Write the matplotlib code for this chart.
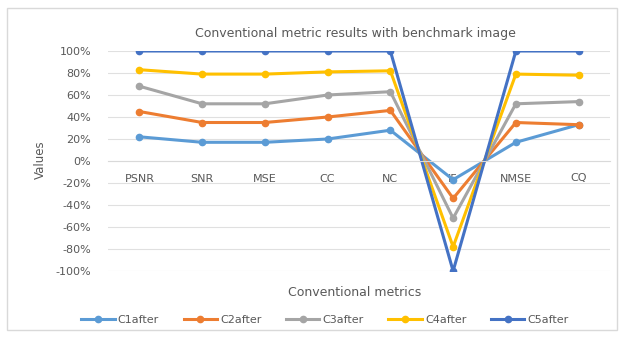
import matplotlib
matplotlib.use("Agg")
import matplotlib.pyplot as plt
from matplotlib.patches import Rectangle
from matplotlib.ticker import FuncFormatter

categories = ["PSNR", "SNR", "MSE", "CC", "NC", "IF", "NMSE", "CQ"]
series_names = ["C1after", "C2after", "C3after", "C4after", "C5after"]
c1 = [22, 17, 17, 20, 28, -17, 17, 33]
c2 = [45, 35, 35, 40, 46, -34, 35, 33]
c3 = [68, 52, 52, 60, 63, -52, 52, 54]
c4 = [83, 79, 79, 81, 82, -78, 79, 78]
c5 = [100, 100, 100, 100, 100, -100, 100, 100]
series = [c1, c2, c3, c4, c5]
colors = ["#5B9BD5", "#ED7D31", "#A5A5A5", "#FFC000", "#4472C4"]

W, H = 621, 338
fig = plt.figure(figsize=(W / 100, H / 100), dpi=100)
fig.patches.append(Rectangle((7 / W, 8 / H), 610 / W, 322 / H, transform=fig.transFigure,
                             fill=False, edgecolor="#D9D9D9", linewidth=1))
ax = fig.add_axes([108 / W, (H - 271) / H, (610 - 108) / W, 220 / H])

x = list(range(len(categories)))
for vals, name, col in zip(series, series_names, colors):
    ax.plot(x, vals, color=col, linewidth=2.2, marker="o", markersize=4.5, label=name)

ax.set_xlim(-0.5, len(categories) - 0.5)
ax.set_ylim(-100, 100)
ax.set_yticks(range(-100, 101, 20))
ax.yaxis.set_major_formatter(FuncFormatter(lambda v, p: f"{int(v)}%"))
ax.set_xticks(x)
ax.set_xticklabels(categories)
ax.grid(axis="y", color="#E0E0E0", linewidth=0.8)
ax.set_axisbelow(True)
for s in ["top", "right", "left"]:
    ax.spines[s].set_visible(False)
ax.spines["bottom"].set_position(("data", 0))
ax.spines["bottom"].set_color("#D9D9D9")
ax.tick_params(axis="both", length=0, labelsize=8, colors="#595959")
ax.tick_params(axis="x", pad=9)
ax.tick_params(axis="y", pad=12)

fig.text(355 / W, 1 - 33 / H, "Conventional metric results with benchmark image",
         ha="center", va="center", fontsize=9, color="#595959")
fig.text(355 / W, 1 - 292 / H, "Conventional metrics", ha="center", va="center",
         fontsize=9, color="#595959")
fig.text(40 / W, 1 - 160 / H, "Values", ha="center", va="center", rotation=90,
         fontsize=8.5, color="#595959")

fig.legend(loc="center", bbox_to_anchor=(325 / W, 1 - 320 / H), ncol=5, frameon=False,
           fontsize=8, labelcolor="#595959", handlelength=3, columnspacing=2.2,
           handletextpad=0.3)

fig.savefig("out.png", dpi=100, facecolor="white")
